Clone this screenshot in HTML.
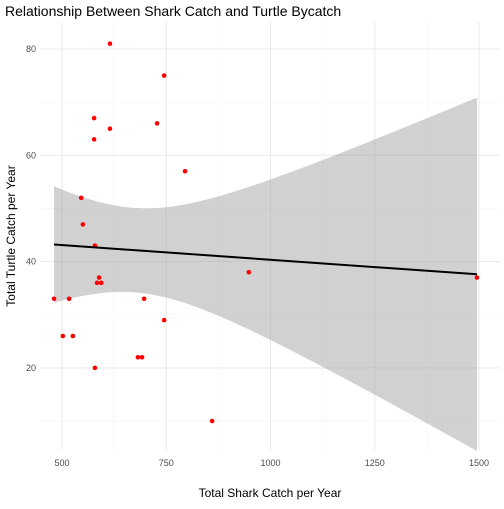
<!DOCTYPE html>
<html><head><meta charset="utf-8"><style>
body{margin:0;background:#fff;font-family:"Liberation Sans",sans-serif;}
svg text{font-family:"Liberation Sans",sans-serif;}
</style></head><body>
<svg id="chart" width="504" height="504">
<g id="grid"></g><g id="band"></g><g id="pts"></g><g id="ax"></g>
<text x="5" y="16" font-size="14" fill="#000">Relationship Between Shark Catch and Turtle Bycatch</text>
<text x="270" y="497" font-size="12" text-anchor="middle" fill="#000">Total Shark Catch per Year</text>
<text transform="translate(15,236) rotate(-90)" font-size="12" text-anchor="middle" fill="#000">Total Turtle Catch per Year</text>
</svg>
<script>
const sharkCatch=[615,745,577,615,728,577,795,546,550,579,584,589,594,948,1495,481,517,697,745,502,526,682,692,579,860];
const turtleCatch=[81,75,67,65,66,63,57,52,47,43,36,37,36,38,37,33,33,33,29,26,26,22,22,20,10];
const xTicks=[500,750,1000,1250,1500];
const xMinor=[625,875,1125,1375];
const yTicks=[20,40,60,80];
const yMinor=[10,30,50,70];
const NS="http://www.w3.org/2000/svg";
const X=v=>62+(v-500)*104.25/250;
const Y=v=>49+(80-v)*106.3/20;
const L=40,R=500,T=22,B=450;
function mk(t,a,p){const e=document.createElementNS(NS,t);for(const k in a)e.setAttribute(k,a[k]);document.getElementById(p).appendChild(e);return e;}
xMinor.forEach(v=>{const e=mk('line',{x1:X(v),x2:X(v),y1:T,y2:B,stroke:'#f3f3f3','stroke-width':0.6},'grid');

});
yMinor.forEach(v=>{const e=mk('line',{x1:L,x2:R,y1:Y(v),y2:Y(v),stroke:'#f3f3f3','stroke-width':0.6},'grid');

});
xTicks.forEach(v=>{const e=mk('line',{x1:X(v),x2:X(v),y1:T,y2:B,stroke:'#ebebeb','stroke-width':1.1},'grid');


const t=mk('text',{x:X(v),y:466,'font-size':9,'text-anchor':'middle',fill:'#4d4d4d'},'ax');t.textContent=v;

});
yTicks.forEach(v=>{const e=mk('line',{x1:L,x2:R,y1:Y(v),y2:Y(v),stroke:'#ebebeb','stroke-width':1.1},'grid');


const t=mk('text',{x:36,y:Y(v)+3,'font-size':9,'text-anchor':'end',fill:'#4d4d4d'},'ax');t.textContent=v;

});
const n=sharkCatch.length,mx=sharkCatch.reduce((a,b)=>a+b)/n,my=turtleCatch.reduce((a,b)=>a+b)/n;
let sxx=0,sxy=0;for(let i=0;i<n;i++){sxx+=(sharkCatch[i]-mx)**2;sxy+=(sharkCatch[i]-mx)*(turtleCatch[i]-my);}
const b1=sxy/sxx,b0=my-b1*mx;let sse=0;for(let i=0;i<n;i++)sse+=(turtleCatch[i]-b0-b1*sharkCatch[i])**2;
const s=Math.sqrt(sse/(n-2)),tq=2.069;
const x0=Math.min(...sharkCatch),x1=Math.max(...sharkCatch);
let up=[],lo=[];for(let k=0;k<=80;k++){const x=x0+(x1-x0)*k/80,f=b0+b1*x,se=s*Math.sqrt(1/n+(x-mx)**2/sxx);up.push(X(x)+','+Y(f+tq*se));lo.unshift(X(x)+','+Y(f-tq*se));}
const band=mk('polygon',{points:up.concat(lo).join(' '),fill:'#999',opacity:0.45},'band');


sharkCatch.forEach((v,i)=>{const c=mk('circle',{cx:X(v),cy:Y(turtleCatch[i]),r:2.3,fill:'#ff0000'},'pts');

});
const ln=mk('line',{x1:X(x0),y1:Y(b0+b1*x0),x2:X(x1),y2:Y(b0+b1*x1),stroke:'#000','stroke-width':2},'pts');


</script>
</body></html>
